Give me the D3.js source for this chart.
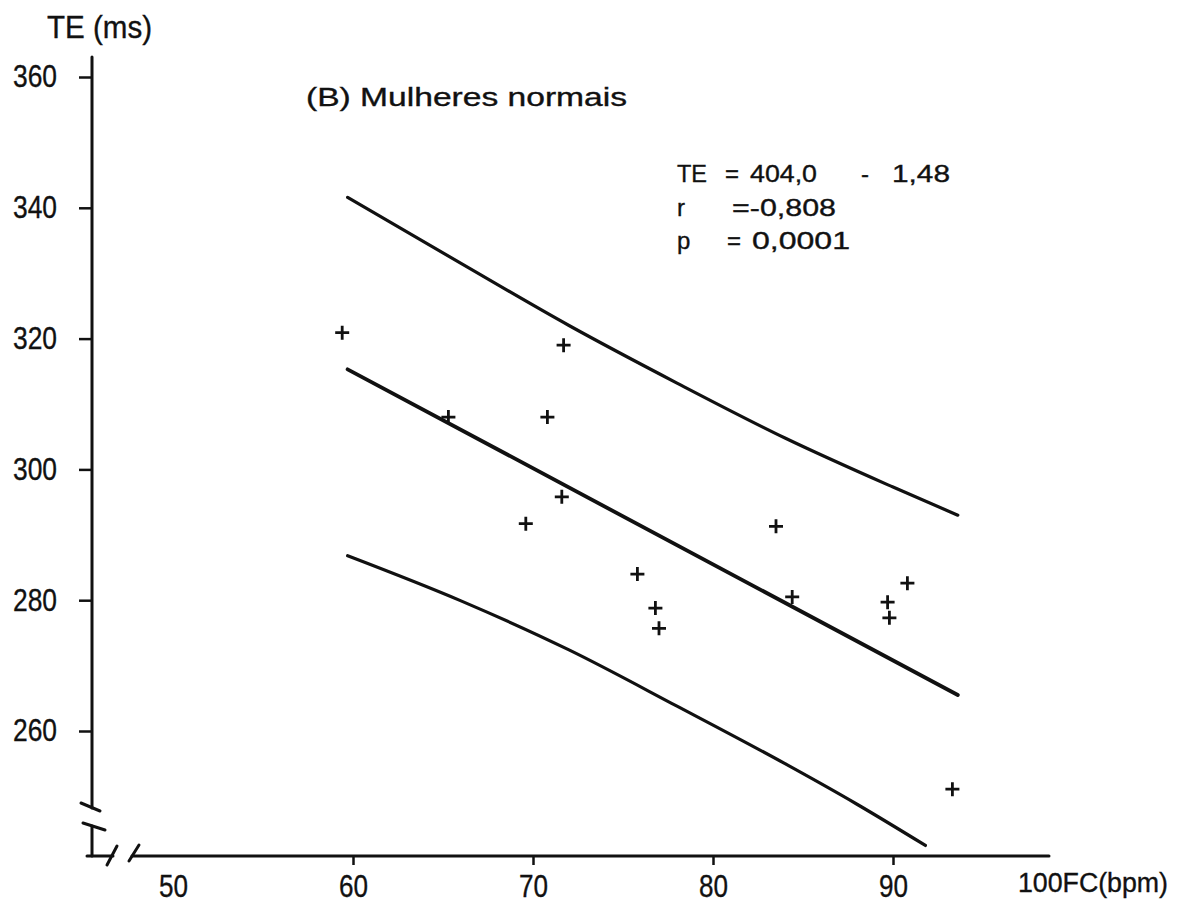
<!DOCTYPE html>
<html>
<head>
<meta charset="utf-8">
<script src="https://cdn.jsdelivr.net/npm/d3@7"></script>
<style>
  html, body { margin: 0; padding: 0; background: #fff; }
  svg { display: block; }
  text { fill: #111; stroke: #111; stroke-width: 0.35px; font-family: "Liberation Sans", Arial, sans-serif; }
</style>
</head>
<body>
<script>
// ---------------- data ----------------
const xTicks = [60, 70, 80, 90];
const xTickLabels = [50, 60, 70, 80, 90];
const yTicks = [260, 280, 300, 320, 340, 360];

// scatter points: heart rate (bpm) vs TE (ms)
const pointFC = [59.4, 71.7, 65.3, 70.8, 71.6, 69.6, 75.8, 76.8, 77.0, 83.5, 84.4, 89.7, 89.8, 90.8, 93.3];
const pointTE = [320.9, 319.0, 308.0, 308.0, 295.8, 291.7, 284.0, 278.8, 275.7, 291.3, 280.5, 279.7, 277.3, 282.6, 251.1];

// regression line
const fitFC = [59.7, 93.6];
const fitTE = [315.3, 265.5];

// upper band
const upperFC = [59.7, 66, 72, 78, 84, 90, 93.6];
const upperTE = [341.6, 331.5, 322.0, 313.2, 304.8, 297.3, 293.0];

// lower band
const lowerFC = [59.7, 66, 72, 78, 84, 88, 91.8];
const lowerTE = [286.8, 279.9, 272.4, 263.8, 255.0, 248.8, 242.5];

const subtitle = "(B) Mulheres normais";
const yTitle = "TE (ms)";
const xTitle = "100FC(bpm)";
const eqLine1 = ["TE", "=", "404,0", "-", "1,48"];
const eqLine2 = ["r", "=-0,808"];
const eqLine3 = ["p", "=", "0,0001"];

// ---------------- layout ----------------
const W = 1182, H = 904;
const svg = d3.select("body").append("svg").attr("width", W).attr("height", H);

const x = d3.scaleLinear().domain([50, 90]).range([173, 893]);
const y = d3.scaleLinear().domain([260, 360]).range([731, 77]);

const axisX = 92;       // y-axis position
const axisY = 856;      // x-axis position
const ink = "#111";

// ---- y axis (ticks + labels) ----
const gy = svg.append("g").attr("transform", `translate(${axisX},0)`)
  .call(d3.axisLeft(y).tickValues(yTicks).tickSize(13).tickPadding(22).tickSizeOuter(0));
gy.select(".domain").remove();
gy.selectAll(".tick line").attr("stroke", ink).attr("stroke-width", 2.5);
gy.selectAll(".tick text").attr("font-size", 31).attr("font-family", null).attr("fill", ink)
  .attr("textLength", 44).attr("lengthAdjust", "spacingAndGlyphs");

// ---- x axis (ticks + labels) ----
const gx = svg.append("g").attr("transform", `translate(0,${axisY})`)
  .call(d3.axisBottom(x).tickValues(xTicks).tickSize(9).tickFormat("").tickSizeOuter(0));
gx.select(".domain").remove();
gx.selectAll(".tick line").attr("stroke", ink).attr("stroke-width", 2.5);

svg.append("g").selectAll("text").data(xTickLabels).join("text")
  .attr("x", d => x(d) - 14).attr("y", 897)
  .attr("font-size", 31).attr("textLength", 29).attr("lengthAdjust", "spacingAndGlyphs")
  .text(d => d);

// ---- axis lines with breaks ----
const axisG = svg.append("g").attr("stroke", ink).attr("stroke-width", 3).attr("fill", "none")
  .attr("stroke-linecap", "round");
axisG.append("line").attr("x1", axisX).attr("x2", axisX).attr("y1", 57).attr("y2", 808);
axisG.append("line").attr("x1", 81).attr("y1", 803).attr("x2", 100).attr("y2", 811);
axisG.append("line").attr("x1", 83).attr("y1", 823).attr("x2", 105).attr("y2", 830);
axisG.append("line").attr("x1", axisX).attr("x2", axisX).attr("y1", 826).attr("y2", axisY);
axisG.append("line").attr("x1", 87).attr("x2", 113).attr("y1", axisY).attr("y2", axisY);
axisG.append("line").attr("x1", 107).attr("y1", 865).attr("x2", 117).attr("y2", 846);
axisG.append("line").attr("x1", 129).attr("y1", 861).attr("x2", 139).attr("y2", 845);
axisG.append("line").attr("x1", 132).attr("x2", 1049).attr("y1", axisY).attr("y2", axisY);

// ---- curves ----
const zip = (a, b) => a.map((v, i) => [v, b[i]]);
const lineGen = d3.line().x(d => x(d[0])).y(d => y(d[1])).curve(d3.curveMonotoneX);

svg.append("path").datum(zip(upperFC, upperTE)).attr("d", lineGen)
  .attr("fill", "none").attr("stroke", ink).attr("stroke-width", 3.2).attr("stroke-linecap", "round");
svg.append("path").datum(zip(lowerFC, lowerTE)).attr("d", lineGen)
  .attr("fill", "none").attr("stroke", ink).attr("stroke-width", 3.2).attr("stroke-linecap", "round");
svg.append("path").datum(zip(fitFC, fitTE)).attr("d", d3.line().x(d => x(d[0])).y(d => y(d[1])))
  .attr("fill", "none").attr("stroke", ink).attr("stroke-width", 3.8).attr("stroke-linecap", "round");

// ---- points (+ markers) ----
svg.append("g").selectAll("path").data(zip(pointFC, pointTE)).join("path")
  .attr("transform", d => `translate(${x(d[0])},${y(d[1])})`)
  .attr("d", "M-7,0H7M0,-7V7")
  .attr("stroke", ink).attr("stroke-width", 2.8).attr("fill", "none");

// ---- texts ----
function fitText(str, x0, y0, size, len) {
  const t = svg.append("text").attr("x", x0).attr("y", y0).attr("font-size", size)
    .attr("xml:space", "preserve").text(str);
  if (len) t.attr("textLength", len).attr("lengthAdjust", "spacingAndGlyphs");
}
fitText(yTitle, 47, 38, 31, 105);
fitText(xTitle, 1018, 892, 27, 150);
fitText(subtitle, 306, 106, 25, 321);

const eqSpec = [
  { parts: eqLine1, y0: 182, xs: [677, 725, 750, 861, 892], ws: [30, null, 67, null, 58] },
  { parts: eqLine2, y0: 216, xs: [677, 732], ws: [null, 104] },
  { parts: eqLine3, y0: 249, xs: [677, 727, 752], ws: [null, null, 98] }
];
eqSpec.forEach(l => l.parts.forEach((p, i) => fitText(p, l.xs[i], l.y0, 24, l.ws[i])));
</script>
</body>
</html>
